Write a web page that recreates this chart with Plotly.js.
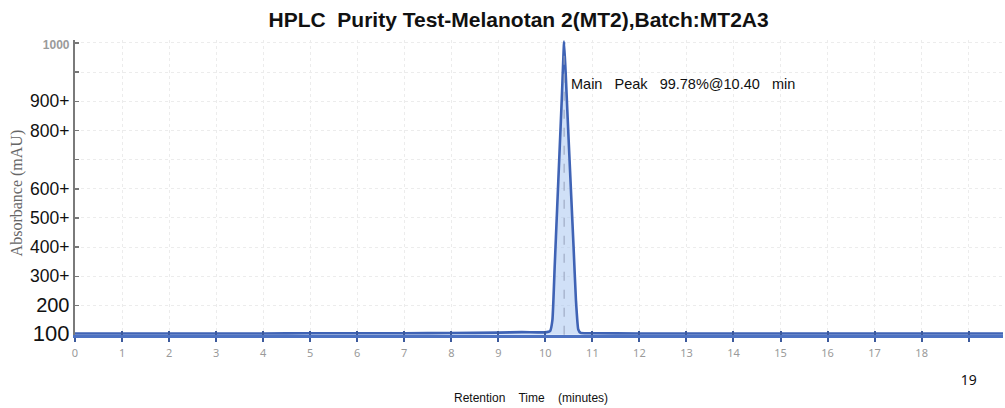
<!DOCTYPE html>
<html>
<head>
<meta charset="utf-8">
<script src="https://cdn.plot.ly/plotly-3.0.1.min.js"></script>
<style>html,body{margin:0;padding:0;background:#fff;}#chart{width:1005px;height:408px;}</style>
</head>
<body>
<div id="chart"></div>
<script>
// Chromatogram samples (retention time in minutes, absorbance in mAU)
const retentionTime = [0, 1, 2, 3, 4, 5, 6, 7, 8, 9, 9.5, 10.0, 10.1, 10.15, 10.2, 10.25, 10.3, 10.35, 10.4, 10.45, 10.5, 10.55, 10.6, 10.65, 10.7, 10.75, 11, 12, 13, 14, 15, 16, 17, 18, 19, 19.73];
const absorbance    = [4, 4, 4, 4, 4, 5, 5, 5, 6, 7, 9, 8, 12, 50, 240, 430, 620, 810, 1005, 830, 650, 475, 300, 120, 18, 6, 5, 4, 4, 4, 4, 4, 4, 4, 4, 4];

const peakTime = 10.40;
const peakValue = 1005;
const peakLabel = "Main   Peak   99.78%@10.40   min";

const xTickVals = [0, 1, 2, 3, 4, 5, 6, 7, 8, 9, 10, 11, 12, 13, 14, 15, 16, 17, 18, 19];
const xTickText = ["0","1","2","3","4","5","6","7","8","9","10","11","12","13","14","15","16","17","18",
  "<br><br><span style='fill:#111;font-size:14px'>19</span>"];

const yTickVals = [0, 100, 200, 300, 400, 500, 600, 700, 800, 900, 1000];
const yTickText = [
  "<span style='font-size:22px'>100</span>",
  "<span style='font-size:20px'>200</span>",
  "300+", "400+", "500+", "600+", "", "800+", "900+", "",
  "<span style='fill:#9a9a9a;font-size:12px;font-weight:bold'>1000</span>"
];

const titleText = "HPLC  Purity Test-Melanotan 2(MT2),Batch:MT2A3";
const xTitle = "Retention    Time    (minutes)";
const yTitle = "Absorbance (mAU)";

const traces = [
  {
    x: retentionTime, y: absorbance, type: "scatter", mode: "lines",
    line: {color: "#3f63b5", width: 2.6, shape: "spline", smoothing: 0.4},
    fill: "tozeroy", fillcolor: "rgba(170,198,240,0.55)",
    hoverinfo: "skip", xaxis: "x", yaxis: "y"
  },
  {
    x: [peakTime, peakTime], y: [0, peakValue * 0.97], type: "scatter", mode: "lines",
    line: {color: "rgba(150,160,185,0.7)", width: 1.4, dash: "dash"},
    hoverinfo: "skip", xaxis: "x", yaxis: "y"
  },
  {
    x: [peakTime], y: [null], type: "scatter", mode: "lines",
    xaxis: "x2", yaxis: "y", hoverinfo: "skip"
  }
];

const xRange = [0, 19.73];
const yRange = [-1, 1010];

const layout = {
  width: 1005, height: 408,
  margin: {l: 75, r: 2, t: 40, b: 73},
  paper_bgcolor: "#ffffff", plot_bgcolor: "#ffffff",
  showlegend: false,
  font: {family: "Liberation Sans, Arial, sans-serif", color: "#111"},
  title: {
    text: "<b>" + titleText + "</b>",
    font: {family: "Liberation Sans, Arial, sans-serif", size: 21, color: "#111"},
    xref: "container", x: 0.516, xanchor: "center",
    yref: "container", y: 0.951, yanchor: "middle"
  },
  xaxis: {
    range: xRange, tickvals: xTickVals, ticktext: xTickText,
    ticks: "outside", ticklen: 4, tickwidth: 2, tickcolor: "#3d5a9c",
    tickfont: {family: "Noto Sans, sans-serif", size: 11, color: "#9a9a9a"},
    ticklabelstandoff: 2,
    showline: true, linecolor: "#4d72c2", linewidth: 2.5,
    showgrid: true, gridcolor: "#ececec", griddash: "dot", gridwidth: 1,
    zeroline: false, fixedrange: true
  },
  xaxis2: {
    range: xRange, overlaying: "x", side: "bottom", anchor: "y",
    tickvals: xTickVals, showticklabels: false,
    ticks: "inside", ticklen: 4, tickwidth: 2, tickcolor: "#3d5a9c",
    showgrid: false, zeroline: false, showline: false
  },
  yaxis: {
    range: yRange, tickvals: yTickVals, ticktext: yTickText,
    ticks: "inside", ticklen: 4, tickwidth: 1.5, tickcolor: "#777",
    tickfont: {family: "Liberation Sans, Arial, sans-serif", size: 17.5, color: "#111"},
    showline: true, linecolor: "#7a7a7a", linewidth: 2,
    showgrid: true, gridcolor: "#ececec", griddash: "dot", gridwidth: 1,
    zeroline: false, fixedrange: true
  },
  annotations: [
    {
      text: peakLabel, x: peakTime + 0.1, y: peakValue * 0.855, xref: "x", yref: "y",
      xanchor: "left", yanchor: "middle", showarrow: false,
      font: {family: "Liberation Sans, Arial, sans-serif", size: 14.5, color: "#111"}
    },
    {
      text: xTitle, xref: "paper", yref: "paper", x: 0.491, y: -0.2136,
      xanchor: "center", yanchor: "middle", showarrow: false,
      font: {family: "Liberation Sans, Arial, sans-serif", size: 12, color: "#111"}
    },
    {
      text: yTitle, xref: "paper", yref: "paper", x: -0.0625, y: 0.48,
      xanchor: "center", yanchor: "middle", showarrow: false, textangle: -90,
      font: {family: "Liberation Serif, DejaVu Serif, serif", size: 16, color: "#666"}
    }
  ]
};

Plotly.newPlot("chart", traces, layout, {displayModeBar: false, staticPlot: true});
</script>
</body>
</html>
